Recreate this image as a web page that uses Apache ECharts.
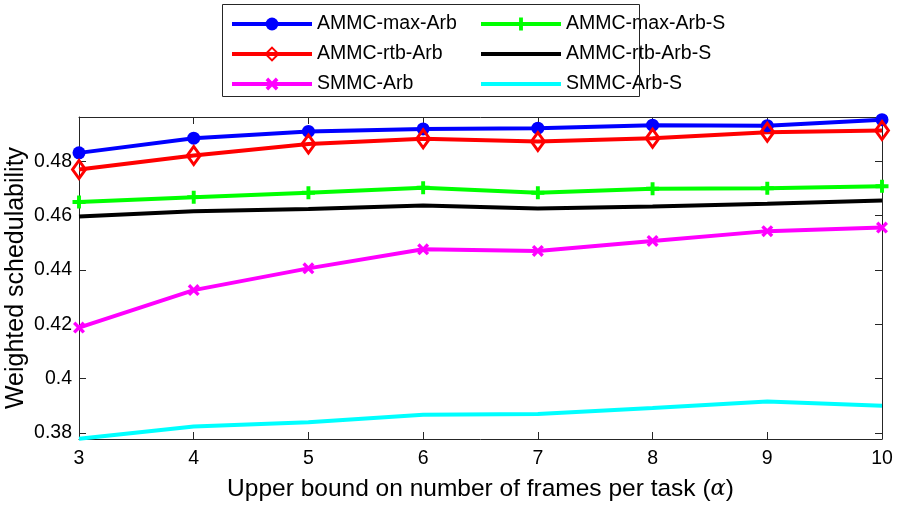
<!DOCTYPE html>
<html>
<head>
<meta charset="utf-8">
<script src="https://cdn.jsdelivr.net/npm/echarts@6/dist/echarts.min.js"></script>
<style>
  html, body { margin: 0; padding: 0; background: #fff; }
  #chart { width: 900px; height: 505px; }
</style>
</head>
<body>
<div id="chart"></div>
<script>
// Upper bound on frames per task (alpha)
const alphaValues = [3, 4, 5, 6, 7, 8, 9, 10];

// Weighted schedulability per method
const ammcMaxArb  = [0.4831, 0.4885, 0.4910, 0.4919, 0.4922, 0.4933, 0.4931, 0.4953];
const ammcRtbArb  = [0.4770, 0.4821, 0.4864, 0.4883, 0.4873, 0.4885, 0.4907, 0.4913];
const smmcArb     = [0.4188, 0.4326, 0.4406, 0.4476, 0.4470, 0.4507, 0.4543, 0.4556];
const ammcMaxArbS = [0.4650, 0.4668, 0.4684, 0.4703, 0.4684, 0.4699, 0.4701, 0.4708];
const ammcRtbArbS = [0.4597, 0.4616, 0.4624, 0.4637, 0.4626, 0.4634, 0.4644, 0.4656];
const smmcArbS    = [0.3779, 0.3824, 0.3840, 0.3867, 0.3870, 0.3892, 0.3916, 0.3900];

const yMin = 0.3778;
const yMax = 0.4963;

const pair = arr => alphaValues.map((a, i) => [a, arr[i]]);

const plusPath = 'path://M3.5,0H6.5V3.5H10V6.5H6.5V10H3.5V6.5H0V3.5H3.5Z';
const crossPath = 'path://M0,2L2,0L5,3L8,0L10,2L7,5L10,8L8,10L5,7L2,10L0,8L3,5Z';

const FONT = 'Liberation Sans, Arial, Helvetica, sans-serif';
const AXIS_COLOR = '#262626';

function lineSeries(name, data, color, symbolOpts) {
  const s = {
    name: name,
    type: 'line',
    data: pair(data),
    lineStyle: { color: color, width: 4 },
    itemStyle: { color: color },
    emphasis: { disabled: true },
    animation: false
  };
  if (symbolOpts) {
    Object.assign(s, symbolOpts);
  } else {
    // plain line: no markers on the plot or in the legend
    s.symbol = 'circle';
    s.showSymbol = false;
    s.itemStyle = { color: 'rgba(0,0,0,0)' };
  }
  return s;
}

const chart = echarts.init(document.getElementById('chart'), null, { renderer: 'canvas' });

const legendText = { fontFamily: FONT, fontSize: 19.5, color: '#000' };
const legendCommon = {
  orient: 'vertical',
  top: 9,
  itemWidth: 80, itemHeight: 16, itemGap: 10,
  textStyle: legendText,
  lineStyle: { width: 4 },
  selectedMode: false
};

chart.setOption({
  backgroundColor: '#fff',
  animation: false,
  textStyle: { fontFamily: FONT },
  grid: { left: 79, right: 18, top: 117, bottom: 66, containLabel: false, outerBoundsMode: 'none' },
  legend: [
    Object.assign({ left: 225, data: ['AMMC-max-Arb', 'AMMC-rtb-Arb', 'SMMC-Arb'] }, legendCommon),
    Object.assign({ left: 474, data: ['AMMC-max-Arb-S', 'AMMC-rtb-Arb-S', 'SMMC-Arb-S'] }, legendCommon)
  ],
  graphic: [
    {
      type: 'rect',
      shape: { x: 222.5, y: 4.5, width: 417, height: 92 },
      style: { fill: 'none', stroke: AXIS_COLOR, lineWidth: 1 },
      z: 100
    }
  ],
  xAxis: [
    {
      type: 'value', min: 3, max: 10, interval: 1,
      name: 'Upper bound on number of frames per task ({a|α})',
      nameLocation: 'middle', nameGap: 38, nameMoveOverlap: false,
      nameTextStyle: {
        fontFamily: FONT, fontSize: 24.5, color: '#000',
        rich: { a: { fontFamily: 'DejaVu Serif', fontStyle: 'italic', fontSize: 22.5, color: '#000' } }
      },
      axisLine: { show: true, onZero: false, lineStyle: { color: AXIS_COLOR, width: 1 } },
      axisTick: { show: true, inside: true, length: 7, lineStyle: { color: AXIS_COLOR } },
      axisLabel: { fontFamily: FONT, fontSize: 19.5, color: '#000', margin: 10 },
      splitLine: { show: false }
    },
    {
      type: 'value', min: 3, max: 10, interval: 1, position: 'top',
      axisLine: { show: true, onZero: false, lineStyle: { color: AXIS_COLOR, width: 1 } },
      axisTick: { show: true, inside: true, length: 7, lineStyle: { color: AXIS_COLOR } },
      axisLabel: { show: false },
      splitLine: { show: false }
    }
  ],
  yAxis: [
    {
      type: 'value', min: yMin, max: yMax, splitNumber: 5,
      name: 'Weighted schedulability',
      nameLocation: 'middle', nameGap: 50, nameRotate: 90, nameMoveOverlap: false,
      nameTextStyle: { fontFamily: FONT, fontSize: 25, color: '#000' },
      axisLine: { show: true, onZero: false, lineStyle: { color: AXIS_COLOR, width: 1 } },
      axisTick: { show: true, inside: true, length: 7, lineStyle: { color: AXIS_COLOR } },
      axisLabel: { fontFamily: FONT, fontSize: 19.5, color: '#000', margin: 7,
                   showMinLabel: false, showMaxLabel: false },
      splitLine: { show: false }
    },
    {
      type: 'value', min: yMin, max: yMax, splitNumber: 5, position: 'right',
      axisLine: { show: true, onZero: false, lineStyle: { color: AXIS_COLOR, width: 1 } },
      axisTick: { show: true, inside: true, length: 7, lineStyle: { color: AXIS_COLOR } },
      axisLabel: { show: false },
      splitLine: { show: false }
    }
  ],
  series: [
    lineSeries('AMMC-max-Arb', ammcMaxArb, '#0000ff', { symbol: 'circle', symbolSize: 13, showSymbol: true }),
    lineSeries('AMMC-rtb-Arb', ammcRtbArb, '#ff0000', {
      symbol: 'diamond', symbolSize: [13, 18], showSymbol: true,
      itemStyle: { color: 'rgba(255,255,255,0)', borderColor: '#ff0000', borderWidth: 3 }
    }),
    lineSeries('SMMC-Arb', smmcArb, '#ff00ff', { symbol: crossPath, symbolSize: 12, showSymbol: true }),
    lineSeries('AMMC-max-Arb-S', ammcMaxArbS, '#00ff00', { symbol: plusPath, symbolSize: 13, showSymbol: true }),
    lineSeries('AMMC-rtb-Arb-S', ammcRtbArbS, '#000000', null),
    lineSeries('SMMC-Arb-S', smmcArbS, '#00ffff', null)
  ]
});
</script>
</body>
</html>
